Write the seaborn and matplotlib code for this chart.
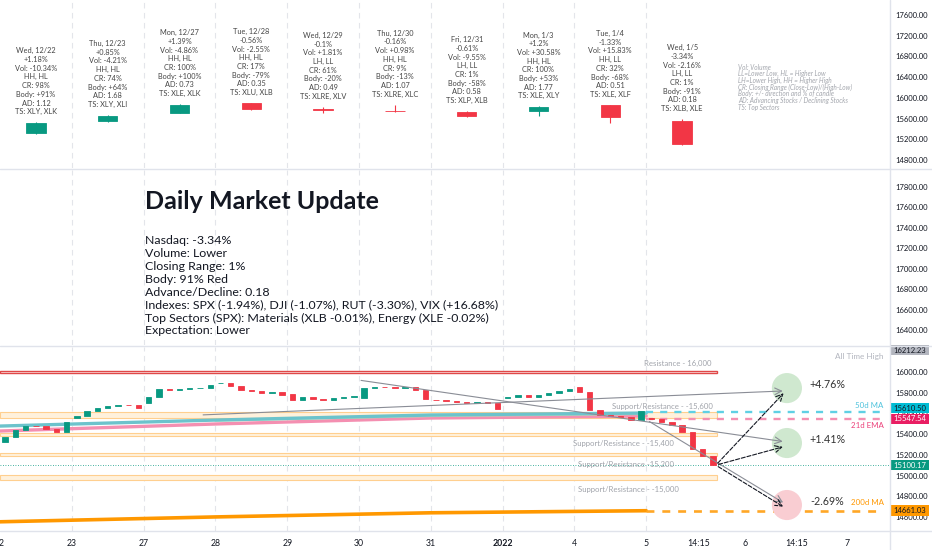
import matplotlib
matplotlib.use("Agg")
import matplotlib.pyplot as plt
from matplotlib.lines import Line2D
from matplotlib.patches import Rectangle
from matplotlib.ticker import FormatStrFormatter
import matplotlib.transforms as mtransforms
import pandas as pd
import seaborn as sns

# daily candles (top pane)
days = ["Wed, 12/22", "Thu, 12/23", "Mon, 12/27", "Tue, 12/28", "Wed, 12/29",
        "Thu, 12/30", "Fri, 12/31", "Mon, 1/3", "Tue, 1/4", "Wed, 1/5"]
day_open = [15320, 15553, 15705, 15895, 15790, 15750, 15733, 15745, 15860, 15553]
day_high = [15530, 15670, 15880, 15900, 15830, 15870, 15745, 15835, 15865, 15592]
day_low = [15300, 15540, 15700, 15770, 15700, 15735, 15640, 15650, 15520, 15095]
day_close = [15522, 15653, 15871, 15781, 15766, 15741, 15645, 15832, 15622, 15100]
chg = ["+1.18%", "+0.85%", "+1.39%", "-0.56%", "-0.1%", "-0.16%", "-0.61%", "+1.2%", "-1.33%", "-3.34%"]
vol = ["-10.34%", "-4.21%", "-4.86%", "-2.55%", "+1.81%", "+0.98%", "-9.55%", "+30.58%", "+15.83%", "-2.16%"]
hl = ["HH, HL", "HH, HL", "HH, HL", "HH, HL", "LH, LL", "HH, HL", "LH, LL", "HH, HL", "HH, LL", "LH, LL"]
cr = ["98%", "74%", "100%", "17%", "61%", "9%", "1%", "100%", "32%", "1%"]
body = ["+91%", "+64%", "+100%", "-79%", "-20%", "-13%", "-58%", "+53%", "-68%", "-91%"]
ad = ["1.12", "1.68", "0.73", "0.35", "0.49", "1.07", "0.58", "1.77", "0.51", "0.18"]
ts = ["XLY, XLK", "XLY, XLI", "XLE, XLK", "XLU, XLB", "XLRE, XLV", "XLRE, XLC",
      "XLP, XLB", "XLE, XLY", "XLE, XLF", "XLB, XLE"]

# intraday closes, 7 bars per session (bottom pane)
intraday = [
    [15372, 15440, 15478, 15475, 15445, 15420, 15520],
    [15575, 15620, 15650, 15668, 15680, 15678, 15653],
    [15760, 15835, 15826, 15835, 15845, 15850, 15871],
    [15895, 15865, 15826, 15815, 15797, 15807, 15781],
    [15730, 15758, 15740, 15732, 15748, 15758, 15766],
    [15845, 15855, 15852, 15850, 15853, 15830, 15741],
    [15730, 15720, 15710, 15705, 15712, 15700, 15645],
    [15760, 15778, 15760, 15778, 15797, 15815, 15832],
    [15805, 15633, 15585, 15575, 15565, 15536, 15622],
    [15546, 15517, 15488, 15420, 15260, 15190, 15100],
]

ma_day = [0, 3, 6, 9]
ma50 = [15478, 15536, 15585, 15604]
ema21 = [15430, 15498, 15556, 15575]
sma_mid = [15470, 15530, 15575, 15595]
ma200 = [14553, 14600, 14640, 14660]
ma50_last, ema21_last, ma200_last = 15610.50, 15547.54, 14661.03
last_price = 15100.17
ath = 16212.23

zones = [(15556, 15614), (15382, 15411), (15189, 15218), (14957, 15005)]
zone_labels = ["Support/Resistance - -15,600", "Support/Resistance - -15,400",
               "Support/Resistance -15,200", "Support/Resistance - -15,000"]
zone_label_pos = [(9.23, 15672), (8.68, 15314), (8.72, 15111), (8.75, 14870)]

targets = [15845, 15314, 14715]
target_txt = ["+4.76%", "+1.41%", "-2.69%"]

xtick_pos = [0, 1, 2, 3, 4, 5, 6, 7, 8, 9, 9.73, 10.38, 11.1, 11.8]
xtick_lab = ["22", "23", "27", "28", "29", "30", "31", "2022", "4", "5", "14:15", "6", "14:15", "7"]

notes = ["Vol: Volume", "LL=Lower Low, HL = Higher Low", "LH=Lower High, HH = Higher High",
         "CR: Closing Range (Close-Low)/(High-Low)", "Body: +/- direction and % of candle",
         "AD: Advancing Stocks / Declining Stocks", "TS: Top Sectors"]
summary = ["Nasdaq: -3.34%", "Volume: Lower", "Closing Range: 1%", "Body: 91% Red",
           "Advance/Decline: 0.18",
           "Indexes: SPX (-1.94%), DJI (-1.07%), RUT (-3.30%), VIX (+16.68%)",
           "Top Sectors (SPX): Materials (XLB -0.01%), Energy (XLE -0.02%)",
           "Expectation: Lower"]

sns.set_theme(style="white")
plt.rcParams["font.family"] = ["Lato", "DejaVu Sans"]

UP, DOWN = "#089981", "#f23645"
GRID = "#e3e5ea"
W, H = 932, 550
XMAX = 889 / 71.8

fig = plt.figure(figsize=(W / 100, H / 100), dpi=100)
fig.patch.set_facecolor("white")


def pane(top, bottom):
    return fig.add_axes([0, 1 - bottom / H, 889 / W, (bottom - top) / H])


ax1 = pane(0, 168)
ax2 = pane(170, 345)
ax3 = pane(347, 531)
ax1.set_ylim(14646, 17890)
ax2.set_ylim(16253, 17966)
ax3.set_ylim(14464, 16242)
ax1.set_yticks(range(14800, 17601, 400))
ax2.set_yticks(range(16400, 17801, 200))
ax3.set_yticks(range(14600, 16001, 200))

for ax in (ax1, ax2, ax3):
    ax.set_xlim(0, XMAX)
    for d in range(1, 10):
        ax.axvline(d, color=GRID, lw=0.8, ls=(0, (5, 4)), zorder=0)
    ax.yaxis.tick_right()
    ax.yaxis.set_major_formatter(FormatStrFormatter("%.2f"))
    ax.tick_params(axis="y", length=0, pad=4.5, labelsize=5.5, labelcolor="#131722")
    for s in ax.spines.values():
        s.set_visible(False)
    ax.set_xlabel("")
    ax.set_ylabel("")
ax1.set_xticks([])
ax2.set_xticks([])

# ---- top pane: daily candles with notes ----
for i in range(len(days)):
    c = UP if day_close[i] >= day_open[i] else DOWN
    x = i + 0.5
    ax1.vlines(x, day_low[i], day_high[i], color=c, lw=0.8, zorder=2)
    ax1.bar(x, day_close[i] - day_open[i], bottom=day_open[i], width=0.27,
            color=c, edgecolor=c, lw=0.6, zorder=3)
    txt = "\n".join([days[i], chg[i], "Vol: " + vol[i], hl[i], "CR: " + cr[i],
                     "Body: " + body[i], "AD: " + ad[i], "TS: " + ts[i]])
    ax1.annotate(txt, xy=(x, day_high[i]), xytext=(0, 5), textcoords="offset points",
                 ha="center", va="bottom", fontsize=5.3, linespacing=1.28, color="#454545")

for k, line in enumerate(notes):
    fig.text(738 / W, 1 - (67 + k * 6.7) / H, line, fontsize=4.7, style="italic",
             color="#a3a6ad", va="center", ha="left")

# ---- middle pane: summary text ----
fig.text(145 / W, 1 - 202 / H, "Daily Market Update", fontsize=18, fontweight="bold",
         color="#131722", va="center", ha="left")
for k, line in enumerate(summary):
    fig.text(145 / W, 1 - (241 + k * 12.85) / H, line, fontsize=8.9,
             color="#131722", va="center", ha="left")

# ---- bottom pane: intraday ----
ax3.add_patch(Rectangle((0, 15987), 9.98, 26, fill=False, ec="#e04848", lw=1.0, zorder=1))
ax3.text(9.44, 16087, "Resistance - 16,000", ha="center", va="center", fontsize=5.6, color="#a0a3aa")
for (lo, hi), lab, (lx, ly) in zip(zones, zone_labels, zone_label_pos):
    ax3.add_patch(Rectangle((0, lo), 9.98, hi - lo, fc="#fff1dc", ec="#ffcf8f", lw=0.8, zorder=1))
    ax3.text(lx, ly, lab, ha="center", va="center", fontsize=5.6, color="#a0a3aa", zorder=6)

ax3.axhline(last_price, color=UP, lw=0.6, ls=(0, (1, 2)), zorder=1)

ma_df = pd.DataFrame({"day": ma_day, "ma50": ma50, "ema21": ema21, "mid": sma_mid, "ma200": ma200})
sns.lineplot(data=ma_df, x="day", y="ema21", ax=ax3, color="#f48fb1", lw=2.4, zorder=2)
sns.lineplot(data=ma_df.iloc[1:], x="day", y="mid", ax=ax3, color="#b9dcb8", lw=1.6, zorder=2)
sns.lineplot(data=ma_df, x="day", y="ma50", ax=ax3, color="#6cc3cc", lw=2.4, zorder=2)
sns.lineplot(data=ma_df, x="day", y="ma200", ax=ax3, color="#ff9800", lw=2.6, zorder=2)
ax3.set_xlabel("")
ax3.set_ylabel("")
ax3.hlines(ma50_last, 9, 12.25, color="#5fd0e4", lw=1.7, ls=(0, (3, 3)), zorder=2)
ax3.hlines(ema21_last, 9, 12.25, color="#f48fb1", lw=1.7, ls=(0, (3, 3)), zorder=2)
ax3.hlines(ma200_last, 9, 12.25, color="#ffa726", lw=1.9, ls=(0, (3, 3)), zorder=2)

prev = None
for i, closes in enumerate(intraday):
    for j, c in enumerate(closes):
        o = day_open[i] if j == 0 else prev
        col = UP if c >= o else DOWN
        ax3.bar(i + (j + 0.5) / 7, c - o, bottom=o, width=0.075, color=col,
                edgecolor=col, lw=0.6, zorder=4)
        prev = c

# trend lines and projections
gray = dict(arrowstyle="->", color="#8a8d96", lw=0.8)
ax3.annotate("", xy=(10.94, 15818), xytext=(2.79, 15585), arrowprops=gray, zorder=5)
ax3.annotate("", xy=(10.94, 15325), xytext=(4.99, 15923), arrowprops=gray, zorder=5)
ax3.annotate("", xy=(10.94, 14725), xytext=(9.01, 15536), arrowprops=gray, zorder=5)

circ = pd.DataFrame({"x": [10.96] * 3, "y": targets, "kind": ["up", "up", "down"]})
sns.scatterplot(data=circ, x="x", y="y", hue="kind", palette={"up": "#cfe8cf", "down": "#f9cdd2"},
                s=470, edgecolor="none", legend=False, ax=ax3, zorder=3)
ax3.set_xlabel("")
ax3.set_ylabel("")
for t in targets:
    ax3.annotate("", xy=(10.94, t - 30), xytext=(9.97, last_price),
                 arrowprops=dict(arrowstyle="->", color="#131722", lw=0.8, ls="--"), zorder=5)
for t, lab in zip(targets, target_txt):
    ax3.text(11.28, t + 30, lab, ha="left", va="center", fontsize=7.7, color="#333333")

ax3.text(12.31, 15681, "50d MA", ha="right", va="center", fontsize=5.7, color="#4fc3dc")
ax3.text(12.31, 15488, "21d EMA", ha="right", va="center", fontsize=5.7, color="#ec407a")
ax3.text(12.31, 14735, "200d MA", ha="right", va="center", fontsize=5.7, color="#ff9800")
ax3.text(12.31, 16155, "All Time High", ha="right", va="center", fontsize=5.9, color="#b2b5be")

# price tags on the right scale
trans = mtransforms.blended_transform_factory(ax3.transAxes, ax3.transData)
tags = [(ath, "#b2b5be", "#131722", 0), (ma50_last, "#00bcd4", "#131722", 42),
        (ema21_last, "#e91e63", "white", 0), (last_price, "#089981", "white", 0),
        (ma200_last, "#ff9800", "#131722", 0)]
for val, bg, fg, dy in tags:
    ax3.add_patch(Rectangle((1.001, val + dy - 50), 0.044, 100, transform=trans,
                            fc=bg, ec="none", clip_on=False, zorder=9))
    ax3.text(1.023, val + dy, f"{val:.2f}", transform=trans, ha="center", va="center",
             fontsize=5.5, color=fg, clip_on=False, zorder=10)

ax3.set_xticks(xtick_pos)
ax3.set_xticklabels(xtick_lab)
ax3.tick_params(axis="x", length=0, pad=6, labelsize=6.3, labelcolor="#131722")
for lab in ax3.get_xticklabels():
    if lab.get_text() == "2022":
        lab.set_fontweight("bold")

# pane separators and price scale border
for y in (169, 346, 531):
    fig.add_artist(Line2D([0, 1], [1 - y / H] * 2, color="#e0e3eb", lw=1))
fig.add_artist(Line2D([889.5 / W] * 2, [0, 1], color="#e0e3eb", lw=1))

fig.savefig("out.png", dpi=100, facecolor="white")
